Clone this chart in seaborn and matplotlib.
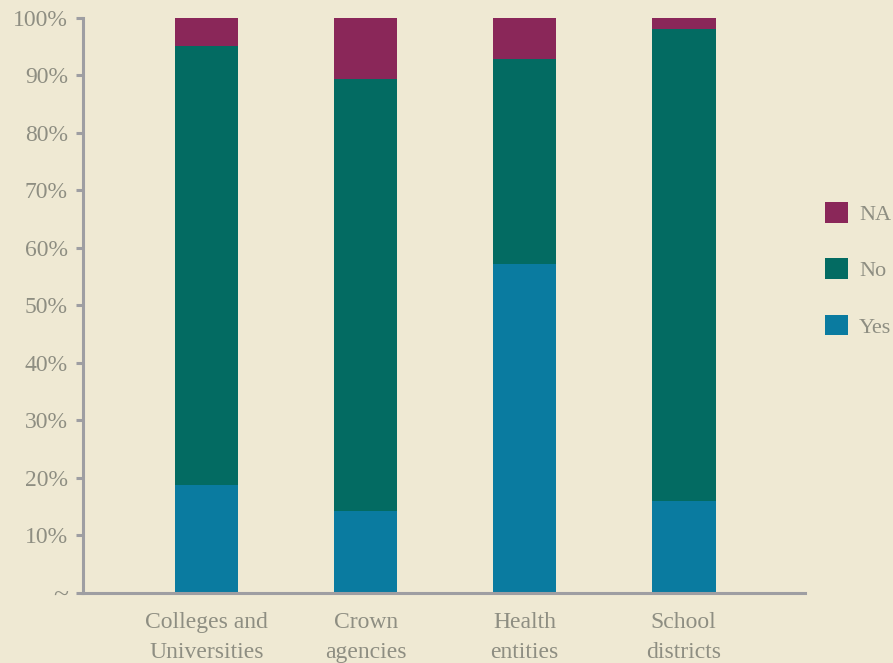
import matplotlib
matplotlib.use("Agg")
import matplotlib.pyplot as plt
import seaborn as sns
import numpy as np
import pandas as pd
from matplotlib.patches import Patch

categories = ["Colleges and\nUniversities", "Crown\nagencies", "Health\nentities", "School\ndistricts"]
yes_vals = [18.7, 14.2, 57.2, 16.0]
no_vals = [76.5, 75.1, 35.7, 82.1]
na_vals = [4.8, 10.7, 7.1, 1.9]
ytick_labels = ["~", "10%", "20%", "30%", "40%", "50%", "60%", "70%", "80%", "90%", "100%"]

BG = "#efe9d3"
C_YES = "#0a7ba0"
C_NO = "#036b62"
C_NA = "#8a2759"
TXT = "#8e8e82"
SPINE = "#9e9ea2"

sns.set_theme(style="white")
plt.rcParams["font.family"] = ["Liberation Serif", "DejaVu Serif"]

fig = plt.figure(figsize=(8.93, 6.63), dpi=100, facecolor=BG)
ax = fig.add_axes([0.093, 0.1056, 0.808, 0.8674])
ax.set_facecolor(BG)

df = pd.DataFrame({"cat": categories, "yes": yes_vals, "no": no_vals, "na": na_vals})
bottom_no = np.array(yes_vals)
bottom_na = bottom_no + np.array(no_vals)

kw = dict(width=0.4, ax=ax, saturation=1, linewidth=0, edgecolor="none")
sns.barplot(data=df, x="cat", y="yes", color=C_YES, **kw)
sns.barplot(data=df, x="cat", y="no", color=C_NO, bottom=bottom_no, **kw)
sns.barplot(data=df, x="cat", y="na", color=C_NA, bottom=bottom_na, **kw)

ax.set_xlim(-0.777, 3.76)
ax.set_ylim(0, 100)
ax.set_yticks(np.arange(0, 101, 10))
ax.set_yticklabels(ytick_labels)
ax.set_xlabel("")
ax.set_ylabel("")
for s in ["top", "right"]:
    ax.spines[s].set_visible(False)
for s in ["left", "bottom"]:
    ax.spines[s].set_color(SPINE)
    ax.spines[s].set_linewidth(2.2)
ax.tick_params(axis="y", length=5, width=2.2, color=SPINE, labelcolor=TXT, labelsize=17, pad=6, left=True)
ax.tick_params(axis="x", length=0, labelcolor=TXT, labelsize=17, pad=14)
for lbl in ax.get_xticklabels():
    lbl.set_linespacing(1.52)
ax.get_yticklabels()[0].set_fontsize(20)

handles = [Patch(facecolor=C_NA, edgecolor="none", label="NA"),
           Patch(facecolor=C_NO, edgecolor="none", label="No"),
           Patch(facecolor=C_YES, edgecolor="none", label="Yes")]
leg = fig.legend(handles=handles, loc="center left", bbox_to_anchor=(0.906, 0.593), frameon=False,
                 fontsize=16, labelcolor=TXT, handlelength=1.05, handleheight=1.05,
                 labelspacing=1.5, handletextpad=0.5, borderpad=0.2)

fig.savefig("out.png", dpi=100, facecolor=BG)
